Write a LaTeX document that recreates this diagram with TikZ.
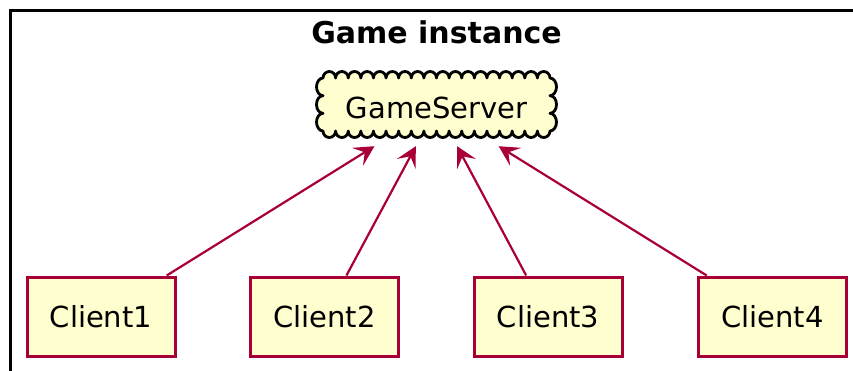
\documentclass[tikz,border=0pt]{standalone}
\usepackage{fontspec}
\setmainfont{DejaVu Sans}
\usetikzlibrary{arrows.meta}

\definecolor{umlfill}{HTML}{FEFECE}
\definecolor{umlline}{HTML}{A80036}

\tikzset{
  client/.style={draw=umlline, fill=umlfill, line width=3pt,
    minimum width=148pt, minimum height=79pt, inner sep=0pt,
    font=\fontsize{29}{34}\selectfont},
  server/.style={minimum width=240pt, minimum height=77pt, inner sep=0pt,
    font=\fontsize{29}{34}\selectfont},
  link/.style={draw=umlline, line width=2.2pt},
  linktip/.tip={Stealth[length=20pt, width=21pt, inset=8.5pt]},
  framebox/.style={draw=black, line width=3pt},
  cloudline/.style={draw=black, fill=umlfill, line width=2.8pt, line join=round}
}

\begin{document}
\begin{tikzpicture}[x=1pt, y=1pt]
  \useasboundingbox (0,0) rectangle (853,-370);
  \clip (0,0) rectangle (853,-370);

  % package frame (continues past the right and bottom edges)
  \draw[framebox] (10,-380) -- (10,-10) -- (870,-10);
  \node[font=\bfseries\fontsize{30}{35}\selectfont, anchor=base]
    (title) at (436.5,-43.5) {Game instance};

  % cloud outline around the server
  \pgfmathsetmacro{\bw}{(550-323)/18}
  \pgfmathsetmacro{\bh}{(131-78)/3}
  \draw[cloudline] (323,-78)
    \foreach \i in {1,...,18}{ arc[start angle=180, end angle=0, x radius=\bw/2, y radius=6.5] }
    \foreach \i in {1,2,3}{ arc[start angle=90, end angle=-90, x radius=6.5, y radius=\bh/2] }
    \foreach \i in {1,...,18}{ arc[start angle=0, end angle=-180, x radius=\bw/2, y radius=6.5] }
    \foreach \i in {1,2,3}{ arc[start angle=270, end angle=90, x radius=6.5, y radius=\bh/2] }
    -- cycle;
  \node[server] (srv) at (436.5,-107.5) {GameServer};

  % clients
  \node[client] (c1) at (101,-316.5) {Client1};
  \node[client] (c2) at (324.5,-316.5) {Client2};
  \node[client] (c3) at (548,-316.5) {Client3};
  \node[client] (c4) at (772.5,-316.5) {Client4};

  % connections
  \draw[link, -linktip] (c1) -- (srv);
  \draw[link, -linktip] (c2) -- (srv);
  \draw[link, -linktip] (c3) -- (srv);
  \draw[link, -linktip] (c4) -- (srv);
\end{tikzpicture}
\end{document}
